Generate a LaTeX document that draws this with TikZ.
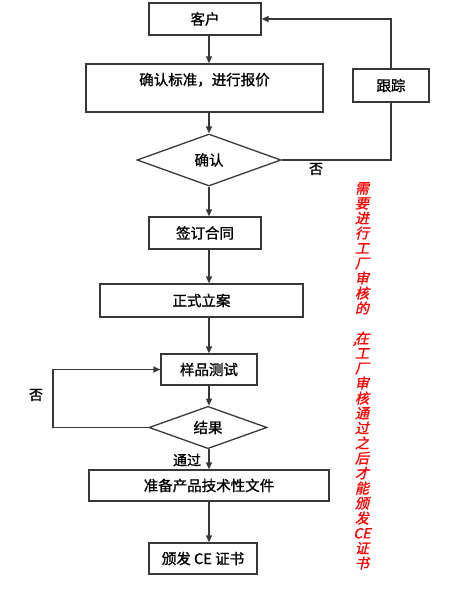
\documentclass[tikz,border=0pt]{standalone}
\usepackage{fontspec}
\setmainfont{Noto Sans CJK SC}[FakeBold=1.2]
\newfontfamily\redslant{Noto Sans CJK SC}[FakeSlant=0.22, FakeBold=1.2]
\usetikzlibrary{arrows.meta,shapes.geometric}
\usepackage{xcolor}

\begin{document}
\begin{tikzpicture}[x=1pt, y=-1pt,
  box/.style={draw=black!78, line width=1.3pt, inner sep=0pt, minimum height=32pt,
    font=\fontsize{14.5}{16}\selectfont},
  decide/.style={box, diamond},
  line/.style={draw=black!78, line width=1.3pt},
  arr/.style={line, -{Triangle[length=7pt, width=6pt]}},
  lbl/.style={inner sep=0pt, font=\fontsize{14}{16}\selectfont}]
  \useasboundingbox (0,0) rectangle (459,592);

  % main column
  \node[box, minimum width=112pt] (kehu) at (205,19) {客户};
  \node[box, minimum width=237pt, minimum height=48pt, align=center] (baojia) at (204.5,88)
    {确认标准，进行报价\\[2pt]\mbox{}};
  \node[decide, minimum width=144pt, minimum height=52pt] (queren) at (209,160) {确认};
  \node[box, minimum width=76pt, minimum height=33pt] (genzong) at (391,85.5) {跟踪};
  \node[box, minimum width=112pt] (hetong) at (205,233) {签订合同};
  \node[box, minimum width=203pt, minimum height=33pt] (lian) at (201.5,300.5) {正式立案};
  \node[box, minimum width=96pt, minimum height=31pt] (ceshi) at (209,369.5) {样品测试};
  \node[decide, minimum width=118pt, minimum height=41pt] (jieguo) at (208,427.5) {结果};
  \node[box, minimum width=240pt, minimum height=31pt] (wenjian) at (209,485.5) {准备产品技术性文件};
  \node[box, minimum width=108pt, minimum height=31pt] (zhengshu) at (203,558.5) {颁发 CE 证书};

  \coordinate (spine) at (209,0);
  \coordinate (back) at (53,0);

  \draw[arr] (kehu.south -| spine) -- (baojia.north -| spine);
  \draw[arr] (baojia.south -| spine) -- (queren.north);
  \draw[arr] (queren.south) -- (hetong.north -| spine);
  \draw[arr] (hetong.south -| spine) -- (lian.north -| spine);
  \draw[arr] (lian.south -| spine) -- (ceshi.north);
  \draw[arr] (ceshi.south) -- (jieguo.north -| spine);
  \draw[arr] (jieguo.south -| spine) -- (wenjian.north -| spine);
  \draw[arr] (wenjian.south -| spine) -- (zhengshu.north -| spine);

  % not confirmed: follow up
  \draw[line] (queren.east) -| (genzong.south);
  \draw[arr] (genzong.north) |- (kehu.east);
  \node[lbl] (fou1) at (316,169) {否};

  % test failed
  \draw[arr] (jieguo.west) -- (jieguo.west -| back) |- (ceshi.west);
  \node[lbl] (fou2) at (36,395) {否};
  \node[lbl] (tongguo) at (187,460) {通过};

  % note
  \node[inner sep=0pt, anchor=north, align=center, text=red,
    font=\redslant\fontsize{14}{15}\selectfont] (note) at (362,182)
    {需\\要\\进\\行\\工\\厂\\审\\核\\的\\\mbox{}\\\llap{,\kern-2pt}在\\工\\厂\\审\\核\\通\\过\\之\\后\\才\\能\\颁\\发\\CE\\证\\书};
\end{tikzpicture}
\end{document}
